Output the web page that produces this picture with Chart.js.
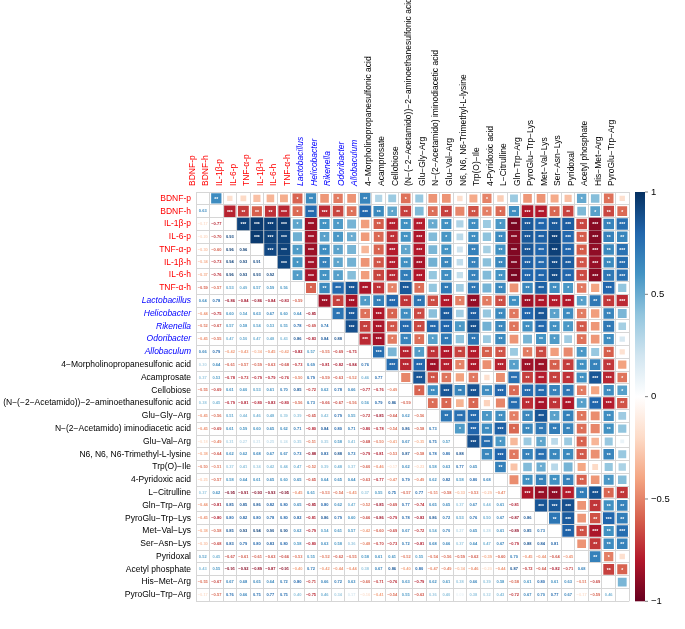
<!DOCTYPE html>
<html>
<head>
<meta charset="utf-8">
<script src="https://cdn.jsdelivr.net/npm/chart.js@4.4.1/dist/chart.umd.min.js"></script>
<style>
  html, body { margin: 0; padding: 0; background: #fff; }
</style>
</head>
<body>
<canvas id="corrChart" width="685" height="629"></canvas>
<script>
// Variables, in matrix order (rows top to bottom, columns left to right)
const varLabels = [
  "BDNF-p", "BDNF-h", "IL-1β-p", "IL-6-p", "TNF-α-p", "IL-1β-h", "IL-6-h", "TNF-α-h",
  "Lactobacillus", "Helicobacter", "Rikenella", "Odoribacter", "Allobaculum",
  "4−Morpholinopropanesulfonic acid", "Acamprosate", "Cellobiose",
  "(N−(−2−Acetamido))−2−aminoethanesulfonic acid", "Glu−Gly−Arg",
  "N−(2−Acetamido) iminodiacetic acid", "Glu−Val−Arg", "N6, N6, N6-Trimethyl-L-lysine",
  "Trp(O)−Ile", "4-Pyridoxic acid", "L−Citrulline", "Gln−Trp−Arg", "PyroGlu−Trp−Lys",
  "Met−Val−Lys", "Ser−Asn−Lys", "Pyridoxal", "Acetyl phosphate", "His−Met−Arg",
  "PyroGlu−Trp−Arg"
];
// c = cytokine / BDNF, b = bacteria, m = metabolite
const varKind = [
  "c","c","c","c","c","c","c","c",
  "b","b","b","b","b",
  "m","m","m","m","m","m","m","m","m","m","m","m","m","m","m","m","m","m","m"
];

// Lower triangle of the correlation matrix: row i holds r(i, 0..i-1)
const lowerTri = [
  [0.63],
  [-0.17, -0.77],
  [-0.20, -0.70, 0.93],
  [-0.30, -0.60, 0.96, 0.96],
  [-0.34, -0.73, 0.94, 0.93, 0.91],
  [-0.37, -0.76, 0.96, 0.93, 0.93, 0.92],
  [-0.59, -0.57, 0.53, 0.49, 0.57, 0.59, 0.56],
  [0.64, 0.78, -0.86, -0.84, -0.86, -0.84, -0.83, -0.59],
  [-0.44, -0.75, 0.60, 0.54, 0.63, 0.67, 0.60, 0.64, -0.85],
  [-0.52, -0.67, 0.57, 0.58, 0.54, 0.53, 0.55, 0.78, -0.69, 0.74],
  [-0.45, -0.55, 0.47, 0.50, 0.47, 0.48, 0.43, 0.86, -0.83, 0.84, 0.88],
  [0.66, 0.79, -0.42, -0.43, -0.34, -0.45, -0.42, -0.82, 0.57, -0.55, -0.69, -0.75],
  [0.30, 0.64, -0.61, -0.57, -0.59, -0.63, -0.68, -0.73, 0.69, -0.81, -0.82, -0.84, 0.76],
  [0.37, 0.53, -0.78, -0.73, -0.79, -0.79, -0.76, -0.50, 0.79, -0.59, -0.63, -0.52, 0.46, 0.77],
  [-0.55, -0.69, 0.61, 0.60, 0.53, 0.61, 0.70, 0.85, -0.72, 0.62, 0.78, 0.66, -0.77, -0.76, -0.49],
  [0.38, 0.45, -0.79, -0.81, -0.80, -0.83, -0.80, -0.56, 0.73, -0.66, -0.67, -0.56, 0.56, 0.79, 0.86, -0.59],
  [-0.45, -0.56, 0.51, 0.44, 0.46, 0.48, 0.39, 0.39, -0.65, 0.42, 0.79, 0.55, -0.72, -0.85, -0.64, 0.62, -0.56],
  [-0.45, -0.69, 0.61, 0.59, 0.60, 0.65, 0.62, 0.71, -0.80, 0.84, 0.80, 0.71, -0.80, -0.78, -0.54, 0.86, -0.58, 0.73],
  [-0.18, -0.49, 0.31, 0.27, 0.21, 0.25, 0.24, 0.35, -0.51, 0.35, 0.58, 0.41, -0.68, -0.50, -0.41, 0.67, -0.35, 0.75, 0.57],
  [-0.38, -0.64, 0.62, 0.62, 0.68, 0.67, 0.67, 0.73, -0.88, 0.83, 0.88, 0.73, -0.79, -0.81, -0.53, 0.87, -0.58, 0.78, 0.80, 0.88],
  [-0.50, -0.51, 0.37, 0.41, 0.34, 0.42, 0.44, 0.47, -0.52, 0.39, 0.48, 0.37, -0.60, -0.46, -0.17, 0.62, -0.23, 0.58, 0.63, 0.77, 0.65],
  [-0.25, -0.57, 0.58, 0.64, 0.61, 0.65, 0.60, 0.65, -0.65, 0.64, 0.65, 0.64, -0.63, -0.77, -0.47, 0.79, -0.49, 0.62, 0.82, 0.58, 0.80, 0.68],
  [0.37, 0.62, -0.95, -0.91, -0.93, -0.93, -0.95, -0.45, 0.61, -0.53, -0.54, -0.45, 0.37, 0.55, 0.75, -0.57, 0.77, -0.51, -0.58, -0.33, -0.53, -0.29, -0.47],
  [-0.44, -0.81, 0.85, 0.85, 0.86, 0.82, 0.80, 0.65, -0.85, 0.80, 0.62, 0.47, -0.52, -0.85, -0.69, 0.77, -0.74, 0.65, 0.65, 0.37, 0.67, 0.44, 0.61, -0.81],
  [-0.45, -0.80, 0.80, 0.82, 0.80, 0.78, 0.80, 0.82, -0.81, 0.86, 0.79, 0.60, -0.66, -0.86, -0.79, 0.78, -0.83, 0.86, 0.72, 0.53, 0.76, 0.50, 0.67, -0.87, 0.86],
  [-0.38, -0.58, 0.85, 0.93, 0.94, 0.90, 0.90, 0.62, -0.79, 0.54, 0.61, 0.57, -0.42, -0.60, -0.69, 0.67, -0.72, 0.54, 0.70, 0.27, 0.65, 0.28, 0.61, -0.89, 0.85, 0.73],
  [-0.30, -0.68, 0.83, 0.79, 0.80, 0.83, 0.80, 0.58, -0.80, 0.63, 0.58, 0.36, -0.48, -0.70, -0.73, 0.72, -0.81, 0.68, 0.66, 0.37, 0.64, 0.47, 0.67, -0.79, 0.88, 0.84, 0.81],
  [0.52, 0.45, -0.67, -0.61, -0.61, -0.63, -0.66, -0.53, 0.55, -0.52, -0.62, -0.55, 0.58, 0.61, 0.61, -0.52, 0.55, -0.54, -0.56, -0.59, -0.62, -0.39, -0.60, 0.70, -0.45, -0.44, -0.64, -0.45],
  [0.43, 0.55, -0.91, -0.92, -0.89, -0.87, -0.91, -0.40, 0.72, -0.42, -0.44, -0.44, 0.38, 0.67, 0.86, -0.40, 0.80, -0.47, -0.49, -0.34, -0.46, -0.20, -0.44, 0.87, -0.72, -0.64, -0.82, -0.71, 0.68],
  [-0.55, -0.67, 0.67, 0.68, 0.65, 0.64, 0.72, 0.80, -0.71, 0.66, 0.72, 0.63, -0.60, -0.71, -0.76, 0.63, -0.79, 0.62, 0.61, 0.38, 0.66, 0.39, 0.58, -0.58, 0.61, 0.80, 0.61, 0.63, -0.51, -0.69],
  [-0.17, -0.57, 0.76, 0.66, 0.75, 0.77, 0.75, 0.40, -0.75, 0.46, 0.34, 0.17, -0.16, -0.41, -0.54, 0.55, -0.63, 0.36, 0.40, 0.09, 0.38, 0.32, 0.43, -0.72, 0.67, 0.70, 0.77, 0.67, -0.17, -0.59, 0.46]
];

// colour legend ticks
const legendTicks = [-1, -0.5, 0, 0.5, 1];

// RdBu palette used by corrplot
const rdbu = ["#67001F", "#B2182B", "#D6604D", "#F4A582", "#FDDBC7", "#FFFFFF",
              "#D1E5F0", "#92C5DE", "#4393C3", "#2166AC", "#053061"];

function hexToRgb(h) {
  return [parseInt(h.slice(1, 3), 16), parseInt(h.slice(3, 5), 16), parseInt(h.slice(5, 7), 16)];
}
function colorFor(v) {
  const t = (Math.max(-1, Math.min(1, v)) + 1) / 2 * 10;
  const i = Math.min(9, Math.floor(t));
  const f = t - i;
  const a = hexToRgb(rdbu[i]), b = hexToRgb(rdbu[i + 1]);
  const c = a.map((x, k) => Math.round(x + (b[k] - x) * f));
  return `rgb(${c[0]},${c[1]},${c[2]})`;
}
function corr(i, j) {
  if (i === j) return 1;
  return i > j ? lowerTri[i - 1][j] : lowerTri[j - 1][i];
}
function fmt(v) {
  return v.toFixed(2).replace("-", "−");
}
// significance marks from r (same n for every pair)
function stars(v) {
  const a = Math.abs(v);
  if (a >= 0.75) return "***";
  if (a >= 0.6) return "**";
  if (a >= 0.5) return "*";
  return "";
}

// build the two layers
const upperCells = [];
const lowerCells = [];
for (let i = 0; i < varLabels.length; i++) {
  for (let j = 0; j < varLabels.length; j++) {
    if (i === j) continue;
    const cell = { x: varLabels[j], y: varLabels[i], v: corr(i, j) };
    if (j > i) upperCells.push(cell); else lowerCells.push(cell);
  }
}

const kindColor = { c: "#FF0000", b: "#0000FF", m: "#000000" };
const gridGrey = "#D6D6D6";
const labelFont = "'Liberation Sans', Arial";

const cellText = {
  id: "cellText",
  afterDatasetsDraw(chart) {
    const ctx = chart.ctx;
    ctx.save();
    ctx.textAlign = "center";
    ctx.textBaseline = "middle";
    // stars on the squares
    ctx.font = "bold 5px " + labelFont;
    ctx.fillStyle = "#FFFFFF";
    chart.getDatasetMeta(0).data.forEach((pt, k) => {
      const s = stars(upperCells[k].v);
      if (s) ctx.fillText(s, pt.x, pt.y + 1);
    });
    // coefficients in the lower triangle
    ctx.font = "bold 4px " + labelFont;
    chart.getDatasetMeta(1).data.forEach((pt, k) => {
      const v = lowerCells[k].v;
      ctx.fillStyle = colorFor(v);
      ctx.fillText(fmt(v), pt.x, pt.y);
    });
    ctx.restore();
  }
};

const colorBar = {
  id: "colorBar",
  afterDraw(chart) {
    const s = chart.scales.cb;
    const ctx = chart.ctx;
    const top = s.getPixelForValue(1), bottom = s.getPixelForValue(-1);
    const x0 = s.left + 6, w = 10;
    const g = ctx.createLinearGradient(0, bottom, 0, top);
    rdbu.forEach((c, k) => g.addColorStop(k / 10, c));
    ctx.save();
    ctx.fillStyle = g;
    ctx.fillRect(x0, top, w, bottom - top);
    ctx.strokeStyle = "#000";
    ctx.lineWidth = 0.5;
    legendTicks.forEach(t => {
      const y = s.getPixelForValue(t);
      ctx.beginPath();
      ctx.moveTo(x0 + w, y);
      ctx.lineTo(x0 + w + 3, y);
      ctx.stroke();
    });
    ctx.restore();
  }
};

function squareRadius(ctx) {
  const v = ctx.raw ? ctx.raw.v : 0;
  const cw = ctx.chart.scales.x.width / varLabels.length;
  // side grows with sqrt(|r|), radius as Chart.js 'rect' expects it
  return Math.sqrt(Math.abs(v)) * cw * 0.96 / 2 / Math.SQRT1_2;
}

function tickFont(c) {
  return { family: labelFont, size: 8.5, style: varKind[c.index] === "b" ? "italic" : "normal" };
}

new Chart(document.getElementById("corrChart"), {
  type: "scatter",
  data: {
    datasets: [
      {
        label: "upper",
        data: upperCells,
        pointStyle: "rect",
        pointRadius: squareRadius,
        pointHoverRadius: squareRadius,
        backgroundColor: ctx => colorFor(ctx.raw ? ctx.raw.v : 0),
        borderWidth: 0
      },
      {
        label: "lower",
        data: lowerCells,
        pointRadius: 0,
        pointHoverRadius: 0
      }
    ]
  },
  options: {
    responsive: false,
    animation: false,
    devicePixelRatio: 1,
    layout: { padding: { left: 0, right: 0, top: 0, bottom: 3 } },
    plugins: { legend: { display: false }, tooltip: { enabled: false } },
    scales: {
      x: {
        type: "category",
        position: "top",
        labels: varLabels,
        offset: true,
        grid: { offset: true, color: gridGrey, lineWidth: 1, drawTicks: false },
        border: { color: gridGrey },
        ticks: {
          autoSkip: false,
          minRotation: 90,
          maxRotation: 90,
          padding: 6,
          color: c => kindColor[varKind[c.index]],
          font: tickFont
        },
        afterFit: s => { s.height = 192; }
      },
      y: {
        type: "category",
        position: "left",
        labels: varLabels,
        offset: true,
        grid: { offset: true, color: gridGrey, lineWidth: 1, drawTicks: false },
        border: { color: gridGrey },
        ticks: {
          autoSkip: false,
          padding: 5,
          color: c => kindColor[varKind[c.index]],
          font: tickFont
        },
        afterFit: s => { s.width = 196; }
      },
      cb: {
        type: "linear",
        position: "right",
        min: -1,
        max: 1,
        grid: { display: false, drawTicks: false },
        border: { display: false },
        afterBuildTicks: s => { s.ticks = legendTicks.map(v => ({ value: v })); },
        ticks: {
          padding: 22,
          color: "#000",
          font: { family: labelFont, size: 9.5 },
          callback: v => String(v).replace("-", "−")
        },
        afterFit: s => { s.width = 56; }
      }
    }
  },
  plugins: [cellText, colorBar]
});
</script>
</body>
</html>
